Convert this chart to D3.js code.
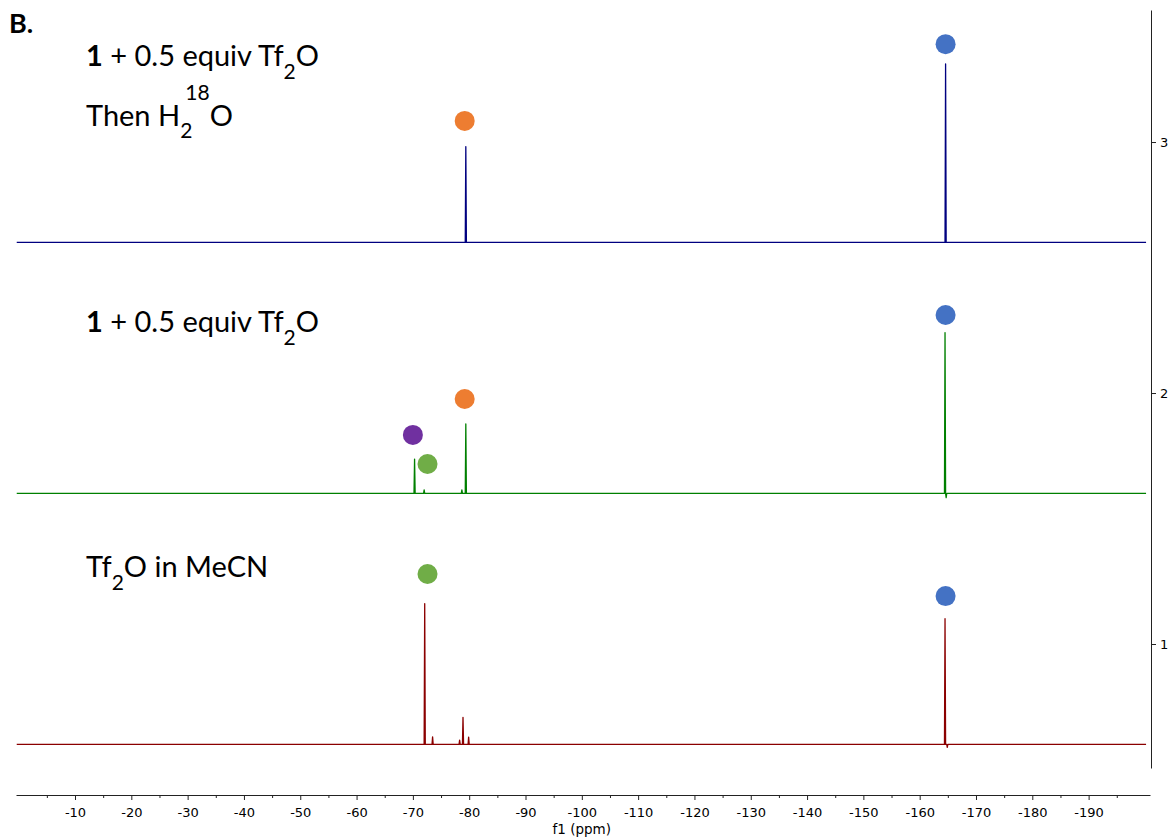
<!DOCTYPE html>
<html>
<head>
<meta charset="utf-8">
<script src="https://cdn.jsdelivr.net/npm/d3@7"></script>
<style>
  body { margin: 0; background: #fff; }
  svg { display: block; }
  .lbl { font-family: Lato, "Open Sans", sans-serif; fill: #000; }
  .axis text { font-family: "DejaVu Sans", Verdana, sans-serif; font-size: 13px; fill: #000; }
  .axis path, .axis line { stroke: #222; }
</style>
</head>
<body>
<svg id="chart" width="1172" height="840"></svg>
<script>
// --- data (ppm, intensity above each trace's own baseline) ---
const traceNames = ["Tf2O in MeCN", "1 + 0.5 equiv Tf2O", "1 + 0.5 equiv Tf2O, then H2(18)O"];
const traceOffsets = [0.6, 1.6, 2.6];
const traceColors = ["#8b0000", "#008000", "#000080"];

const peaksRed = [
  { ppm: -72.1, h: 0.561 }, { ppm: -73.5, h: 0.030 }, { ppm: -78.3, h: 0.017 },
  { ppm: -78.9, h: 0.108 }, { ppm: -79.9, h: 0.029 }, { ppm: -164.5, h: 0.501 },
  { ppm: -164.9, h: -0.012 }
];
const peaksGreen = [
  { ppm: -70.3, h: 0.137 }, { ppm: -72.0, h: 0.014 }, { ppm: -78.7, h: 0.014 },
  { ppm: -79.4, h: 0.277 }, { ppm: -164.5, h: 0.641 }, { ppm: -164.7, h: -0.017 }
];
const peaksBlue = [
  { ppm: -79.4, h: 0.382 }, { ppm: -164.6, h: 0.711 }
];
const tracePeaks = [peaksRed, peaksGreen, peaksBlue];

// markers: colour class, ppm, absolute intensity
const markerColors = { cf3: "#4472c4", otf: "#ed7d31", tf2o: "#70ad47", inter: "#7030a0" };
const markers = [
  { kind: "cf3", ppm: -164.6, v: 3.390 },
  { kind: "otf", ppm: -79.2, v: 3.084 },
  { kind: "cf3", ppm: -164.6, v: 2.311 },
  { kind: "otf", ppm: -79.2, v: 1.976 },
  { kind: "inter", ppm: -70.0, v: 1.833 },
  { kind: "tf2o", ppm: -72.6, v: 1.717 },
  { kind: "cf3", ppm: -164.6, v: 1.191 },
  { kind: "tf2o", ppm: -72.6, v: 1.279 }
];

const majorTicks = [-10, -20, -30, -40, -50, -60, -70, -80, -90, -100,
                    -110, -120, -130, -140, -150, -160, -170, -180, -190];
const minorTicks = [-5, -15, -25, -35, -45, -55, -65, -75, -85, -95, -105,
                    -115, -125, -135, -145, -155, -165, -175, -185, -195];
const rightTicks = [1, 2, 3];

const ppmDomain = [0.48, -200.9];
const specRange = [0.35, -200.2];
const intDomain = [0.506, 3.526];

// --- layout ---
const svg = d3.select("#chart");
const xLeft = 16, xRight = 1150, yTop = 10, yBottom = 768, axisY = 795;

const x = d3.scaleLinear().domain(ppmDomain).range([xLeft, xRight]);
const y = d3.scaleLinear().domain(intDomain).range([yBottom, yTop]);

// bottom axis
svg.append("g")
  .attr("class", "axis")
  .attr("transform", `translate(0,${axisY})`)
  .call(d3.axisBottom(x).tickValues(minorTicks).tickSize(3).tickSizeOuter(0).tickFormat(""));
svg.append("g")
  .attr("class", "axis")
  .attr("transform", `translate(0,${axisY})`)
  .call(d3.axisBottom(x).tickValues(majorTicks).tickSize(5).tickSizeOuter(0).tickPadding(8)
    .tickFormat(d => String(d)))
  .call(g => g.select(".domain").remove());

svg.append("text")
  .attr("x", x(-100))
  .attr("y", 834)
  .attr("text-anchor", "middle")
  .style("font-family", "DejaVu Sans, Verdana, sans-serif")
  .style("font-size", "13.5px")
  .text("f1 (ppm)");

// right axis
svg.append("g")
  .attr("class", "axis")
  .attr("transform", `translate(${xRight + 1},0)`)
  .call(d3.axisRight(y).tickValues(rightTicks).tickSize(5).tickSizeOuter(0).tickPadding(4)
    .tickFormat(d3.format("d")));

// spectra
const line = d3.line().x(d => x(d[0])).y(d => d[1]);
const halfW = 0.1;

tracePeaks.forEach((peaks, i) => {
  const off = traceOffsets[i];
  const pts = [[specRange[0], off]];
  peaks.slice().sort((a, b) => b.ppm - a.ppm).forEach(p => {
    pts.push([p.ppm + halfW, off], [p.ppm, off + p.h], [p.ppm - halfW, off]);
  });
  pts.push([specRange[1], off]);
  svg.append("path")
    .attr("d", line(pts.map(d => [d[0], y(d[1])])))
    .attr("fill", "none")
    .attr("stroke", traceColors[i])
    .attr("stroke-width", 1.3)
    .attr("stroke-linejoin", "round");
});

// markers
svg.append("g")
  .selectAll("circle")
  .data(markers)
  .join("circle")
  .attr("cx", d => x(d.ppm))
  .attr("cy", d => y(d.v))
  .attr("r", 10)
  .attr("fill", d => markerColors[d.kind]);

// labels
const fs = 29;
svg.append("text").attr("class", "lbl").attr("x", 9).attr("y", 33)
  .style("font-size", "27px").style("font-weight", "bold").text("B.");

function equivLabel(yBase) {
  const t = svg.append("text").attr("class", "lbl").attr("x", 86).attr("y", yBase)
    .style("font-size", fs + "px");
  t.append("tspan").style("font-weight", "bold").text("1");
  t.append("tspan").text(" + 0.5 equiv Tf");
  t.append("tspan").attr("dy", 13).style("font-size", "21px").text("2");
  t.append("tspan").attr("dy", -13).text("O");
}
equivLabel(66);
equivLabel(332);

const t2 = svg.append("text").attr("class", "lbl").attr("x", 86).attr("y", 126)
  .style("font-size", fs + "px");
t2.append("tspan").text("Then H");
t2.append("tspan").attr("dy", 12).style("font-size", "21px").text("2");
t2.append("tspan").attr("dy", -38).attr("dx", -7).style("font-size", "21px").text("18");
t2.append("tspan").attr("dy", 26).text("O");

const t3 = svg.append("text").attr("class", "lbl").attr("x", 86).attr("y", 577)
  .style("font-size", fs + "px");
t3.append("tspan").text("Tf");
t3.append("tspan").attr("dy", 13).style("font-size", "21px").text("2");
t3.append("tspan").attr("dy", -13).text("O in MeCN");
</script>
</body>
</html>
